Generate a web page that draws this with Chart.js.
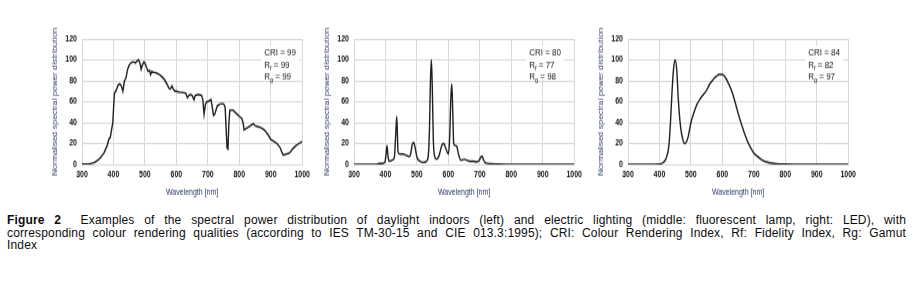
<!DOCTYPE html>
<html>
<head>
<meta charset="utf-8">
<script src="https://cdn.jsdelivr.net/npm/chart.js@4.4.1/dist/chart.umd.min.js"></script>
<style>
  body { margin: 0; background: #fff; width: 913px; height: 287px; position: relative; overflow: hidden; }
  .panel { position: absolute; top: 25px; width: 284px; height: 180px; }
  .panel canvas { width: 284px !important; height: 180px !important; }
  #caption { position: absolute; left: 7px; top: 214px; width: 899px; font-family: "Liberation Sans", Arial, sans-serif; font-size: 12px; line-height: 12.5px; letter-spacing: 0.15px; color: #0d0d0d; }
  #caption div { text-align: justify; text-align-last: justify; white-space: nowrap; }
  #caption div.last { text-align-last: left; }
</style>
</head>
<body>
<div class="panel" style="left:30px"><canvas id="c1"></canvas></div>
<div class="panel" style="left:302px"><canvas id="c2"></canvas></div>
<div class="panel" style="left:576px"><canvas id="c3"></canvas></div>
<div id="caption">
  <div><b>Figure 2</b>&nbsp; Examples of the spectral power distribution of daylight indoors (left) and electric lighting (middle: fluorescent lamp, right: LED), with</div>
  <div>corresponding colour rendering qualities (according to IES TM-30-15 and CIE 013.3:1995); CRI: Colour Rendering Index, Rf: Fidelity Index, Rg: Gamut</div>
  <div class="last">Index</div>
</div>
<script>
// x ticks and y ticks
const xTicks = [300, 400, 500, 600, 700, 800, 900, 1000];
const yTicks = [0, 20, 40, 60, 80, 100, 120];

// daylight indoors
const wlDay = [300,310,320,330,340,350,360,370,380,385,390,395,398,400,403,407,410,415,420,425,430,435,440,445,450,455,460,465,470,475,480,485,488,492,497,500,505,510,515,518,522,527,532,540,550,560,570,576,580,586,590,596,600,610,620,630,635,640,645,650,656,660,670,680,684,688,692,696,700,705,710,714,718,722,726,730,740,750,755,758,761,764,767,770,780,790,800,808,812,815,820,830,840,845,850,860,870,880,890,900,910,920,930,935,940,950,960,970,980,990,1000];
const daylight = [0.5,0.3,0.5,1,2,4,7,11,18,24,26,35,40,52,68,70,72,76,77,75,70,80,83,91,95,97,98,98,97,99,100,96,91,95,98,97,93,89,90,86,89,88,88,87,85,82,77,73,72,75,72,70,70,69,69,68,64,66,67,66,62,66,67,66,62,48,57,60,60,61,62,55,47,48,52,56,58,58,55,35,16,15,40,52,52,49,46,44,40,33,34,36,38,39,37,36,35,33,29,24,22,20,16,12,9,10,11,15,18,20,22];

// fluorescent lamp
const wlFluor = [300,370,380,390,398,402,405,408,412,420,428,432,436,440,445,455,465,475,480,485,490,495,500,510,520,530,536,540,543,546,549,552,556,562,570,576,580,585,590,596,600,604,608,611,614,617,622,627,632,640,650,660,670,680,690,698,703,707,711,716,725,740,760,800,1000];
const fluorescent = [0,0,1,1,2,10,18,8,3,4,6,25,46,12,10,10,9,7.5,10,19,21,15,7,3,2,3,8,35,80,100,72,25,8,5,8,15,19,20,17,12,10,25,65,77,50,20,18,17,10,4,5,4,3,3,2.5,4,7,8,5,2,1,0.6,0.3,0,0];

// LED
const wlLed = [300,400,410,420,430,435,440,445,450,455,460,465,470,480,490,500,510,520,530,540,550,560,570,580,590,600,610,620,630,640,650,660,670,680,690,700,710,720,730,740,750,770,800,850,1000];
const led = [0,0.5,1.5,5,18,40,70,92,100,90,62,42,30,20,25,40,50,58,63,67,71,77,81,84,86,86,83,77,70,60,49,39,30,22,16,11,8,5.5,3.5,2.5,1.5,0.8,0.3,0,0];

// colour rendering values per panel: CRI, Rf, Rg
const qualities = [[99, 99, 99], [80, 77, 98], [84, 82, 97]];

const labelFont = '"Liberation Sans", Arial, sans-serif';

// draws the CRI / Rf / Rg box in the top right corner
const qualityBox = {
    id: 'qualityBox',
    afterDatasetsDraw(chart, args, opts) {
        const ctx = chart.ctx;
        const area = chart.chartArea;
        const x = area.right - opts.offset;
        const y0 = area.top + 11;
        const vals = opts.values;
        ctx.save();
        ctx.fillStyle = '#fff';
        ctx.fillRect(x - 3, y0 - 6, 38, 27);
        ctx.fillStyle = '#1a1a1a';
        ctx.textBaseline = 'middle';
        ctx.font = '8px ' + labelFont;
        ctx.fillText('CRI = ' + vals[0], x, y0);
        const rows = [['f', vals[1]], ['g', vals[2]]];
        rows.forEach(function(r, i) {
            const y = y0 + 9.5 * (i + 1);
            ctx.font = '8px ' + labelFont;
            ctx.fillText('R', x, y);
            let w = ctx.measureText('R').width;
            ctx.font = '5.5px ' + labelFont;
            ctx.fillText(r[0], x + w, y + 2.5);
            w += ctx.measureText(r[0]).width;
            ctx.font = '8px ' + labelFont;
            ctx.fillText(' = ' + r[1], x + w, y);
        });
        ctx.restore();
    }
};

function makeChart(id, wl, values, q, offset, smooth) {
    const points = wl.map(function(w, i) { return { x: w, y: values[i] }; });
    return new Chart(document.getElementById(id), {
        type: 'line',
        data: {
            datasets: [{
                data: points,
                borderColor: '#1f1f1f',
                borderWidth: 1.4,
                pointRadius: 0,
                fill: false,
                cubicInterpolationMode: smooth ? 'monotone' : 'default',
                tension: 0
            }]
        },
        options: {
            responsive: false,
            animation: false,
            layout: { padding: { top: 11, right: 8, left: 0, bottom: 0 } },
            plugins: {
                legend: { display: false },
                tooltip: { enabled: false },
                qualityBox: { values: q, offset: offset }
            },
            scales: {
                x: {
                    type: 'linear',
                    min: 300,
                    max: 1000,
                    afterBuildTicks: function(axis) { axis.ticks = xTicks.map(function(v) { return { value: v }; }); },
                    afterFit: function(axis) { axis.height = 32; },
                    grid: { color: '#d9d9d9', lineWidth: 1, drawTicks: false },
                    border: { color: '#d9d9d9' },
                    ticks: { padding: 4, color: '#111', font: { family: labelFont, size: 7, weight: 'bold' }, maxRotation: 0, callback: function(v) { return String(v); } },
                    title: { display: true, text: 'Wavelength [nm]', color: '#2b3a67', font: { family: labelFont, size: 7 }, padding: { top: 0, bottom: 6 } }
                },
                y: {
                    min: 0,
                    max: 120,
                    afterBuildTicks: function(axis) { axis.ticks = yTicks.map(function(v) { return { value: v }; }); },
                    afterFit: function(axis) { axis.width = 52; },
                    grid: { color: '#d9d9d9', lineWidth: 1, drawTicks: false },
                    border: { color: '#d9d9d9' },
                    ticks: { padding: 5, color: '#111', font: { family: labelFont, size: 7, weight: 'bold' }, callback: function(v) { return String(v); } },
                    title: { display: true, text: 'Normalised spectral power distribution', color: '#2b3a67', font: { family: labelFont, size: 6.9 }, padding: { top: 21, bottom: 0 } }
                }
            }
        },
        plugins: [qualityBox]
    });
}

makeChart('c1', wlDay, daylight, qualities[0], 38, false);
makeChart('c2', wlFluor, fluorescent, qualities[1], 45, true);
makeChart('c3', wlLed, led, qualities[2], 40, true);
</script>
</body>
</html>
